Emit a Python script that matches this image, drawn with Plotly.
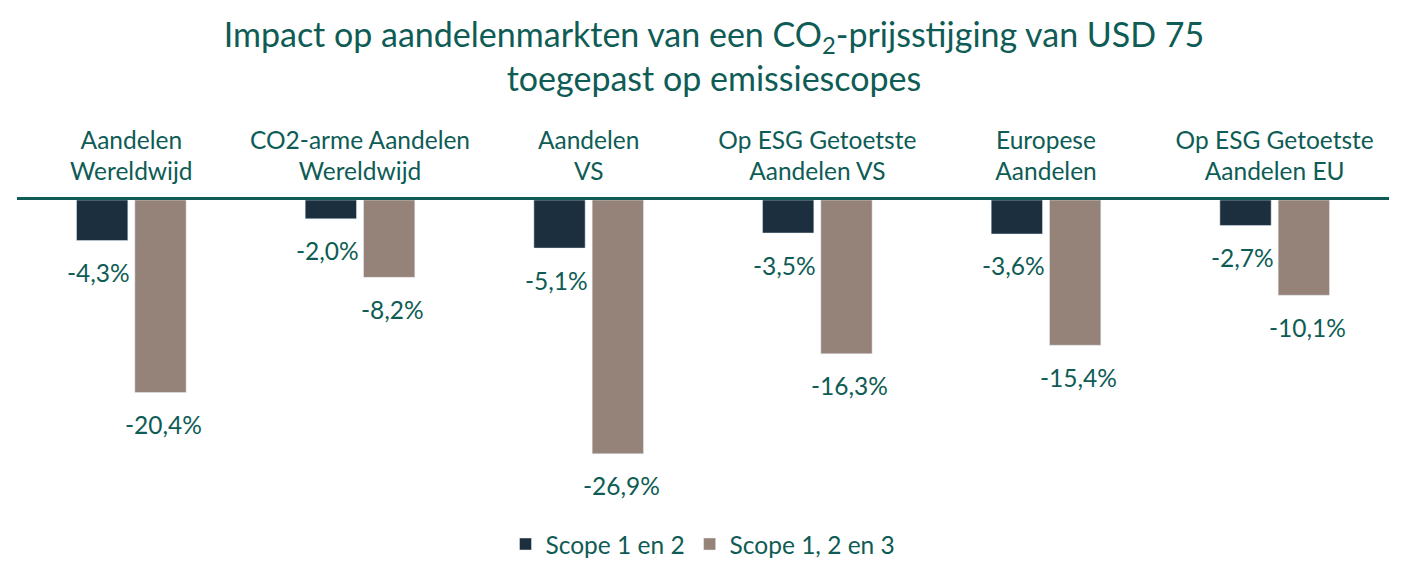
import plotly.graph_objects as go

# data
categories = [
    "Aandelen<br>Wereldwijd",
    "CO2-arme Aandelen<br>Wereldwijd",
    "Aandelen<br>VS",
    "Op ESG Getoetste<br>Aandelen VS",
    "Europese<br>Aandelen",
    "Op ESG Getoetste<br>Aandelen EU",
]
scope_12 = [-4.3, -2.0, -5.1, -3.5, -3.6, -2.7]
scope_123 = [-20.4, -8.2, -26.9, -16.3, -15.4, -10.1]
series_names = ["Scope 1 en 2", "Scope 1, 2 en 3"]

TEAL = "#0e5c55"
DARK = "#1b2f3e"
GREY = "#958279"
FONT = "Lato"

fig = go.Figure()
fig.add_trace(go.Bar(x=categories, y=scope_12, name=series_names[0], marker_color=DARK))
fig.add_trace(go.Bar(x=categories, y=scope_123, name=series_names[1], marker_color=GREY))

# value labels under each bar
for vals, shift in [(scope_12, -32.5), (scope_123, 32.5)]:
    for c, v in zip(categories, vals):
        fig.add_annotation(
            x=c, y=v, xshift=shift, yshift=-32,
            text=f"{v:.1f}%".replace(".", ","),
            showarrow=False, yanchor="middle",
            font=dict(family=FONT, size=24.5, color=TEAL),
        )

fig.update_layout(
    width=1412, height=578,
    paper_bgcolor="white", plot_bgcolor="white",
    margin=dict(l=9, r=31, t=192, b=86, autoexpand=False),
    barmode="group", bargap=0.49, bargroupgap=0.12,
    font=dict(family=FONT, size=24, color=TEAL),
    title=dict(
        text="Impact op aandelenmarkten van een CO<sub>2</sub>-prijsstijging van USD 75<br>toegepast op emissiescopes",
        x=0.5, xanchor="center", y=0.933, yanchor="middle",
        font=dict(family=FONT, size=34, color=TEAL),
    ),
    legend=dict(
        orientation="h", x=0.5, xanchor="center", y=-0.147, yanchor="middle",
        font=dict(family=FONT, size=24.5, color=TEAL),
        traceorder="normal",
    ),
    showlegend=True,
)
fig.update_xaxes(
    side="top", showline=True, linecolor=TEAL, linewidth=2.5,
    ticks="", showgrid=False, automargin=False,
    tickfont=dict(family=FONT, size=24.5, color=TEAL),
    ticklabelstandoff=7,
)
fig.update_yaxes(range=[-31.8, 0], visible=False, showgrid=False, zeroline=False)

fig.write_html("out.html")
